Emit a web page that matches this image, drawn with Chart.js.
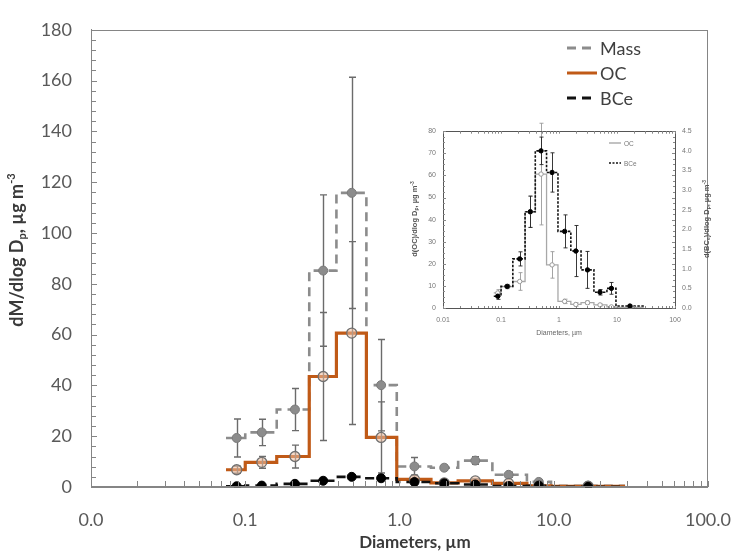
<!DOCTYPE html>
<html>
<head>
<meta charset="utf-8">
<script src="https://cdn.jsdelivr.net/npm/chart.js@4.4.1/dist/chart.umd.min.js"></script>
<style>
  html, body { margin: 0; padding: 0; background: #fff; }
  #wrap { position: relative; width: 753px; height: 552px; overflow: hidden; }
  #main  { position: absolute; left: 0; top: 0; }
  #inset { position: absolute; left: 395px; top: 120px; }
</style>
</head>
<body>
<div id="wrap">
  <canvas id="main" width="753" height="552"></canvas>
  <canvas id="inset" width="330" height="225"></canvas>
</div>
<script>
// ── Data ───────────────────────────────────────────────────────────────────
const BIN_EDGES = [0.075, 0.1, 0.16, 0.26, 0.39, 0.61, 0.96, 1.6, 2.4, 4.0, 6.7, 9.6, 29];
const DIAMETERS = [0.088, 0.128, 0.21, 0.32, 0.49, 0.76, 1.25, 1.95, 3.1, 5.1, 8.0, 16.7];

const MASS     = [19.3, 21.5, 30.5, 85.2, 115.8, 40.1, 8.1, 7.6, 10.4, 4.8, 2.0, 0.5];
const MASS_ERR = [7.5, 5.2, 8.3, 29.8, 45.5, 18.0, 3.5, 1.0, 1.5, 1.0, 0.6, 0.4];
const OC       = [6.8, 9.7, 12.0, 43.5, 60.6, 19.5, 3.0, 1.6, 2.4, 1.4, 0.5, 0.3];
const OC_ERR   = [1.4, 2.3, 4.5, 25.2, 36.0, 14.0, 1.5, 0.6, 0.8, 0.5, 0.3, 0.2];
const BCE      = [0.3, 0.55, 1.25, 2.45, 4.0, 3.45, 1.95, 1.45, 0.97, 0.4, 0.5, 0.05];
const BCE_ERR  = [0.08, 0.04, 0.18, 0.4, 0.35, 0.5, 0.42, 0.65, 0.47, 0.07, 0.15, 0.02];

// inset panel (OC on left axis, BCe on right axis)
const INSET_OC_ERR  = [1.5, 1.0, 4.0, 7.0, 23.0, 6.0, 1.0, 0.8, 0.8, 0.5, 0.3, 0.3];
const INSET_BCE_ERR = [0.08, 0.04, 0.18, 0.4, 0.35, 0.5, 0.42, 0.65, 0.47, 0.07, 0.15, 0.02];

const X_TICKS        = [0.01, 0.1, 1, 10, 100];
const X_TICK_LABELS  = ['0.0', '0.1', '1.0', '10.0', '100.0'];
const INSET_X_LABELS = ['0.01', '0.1', '1', '10', '100'];

// ── Styles ─────────────────────────────────────────────────────────────────
const FONT       = 'Lato, "Open Sans", sans-serif';
const INSET_FONT = '"Liberation Sans", Arial, sans-serif';
const AXIS_COLOR = '#858585';
const TEXT_COLOR = '#595959';
const MASS_COLOR = '#8c8c8c';
const OC_COLOR   = '#c05a17';
const BCE_COLOR  = '#111111';
const ERR_COLOR  = '#6b6b6b';

// ── Helpers ────────────────────────────────────────────────────────────────
function stepPoints(edges, vals) {
  const pts = [];
  vals.forEach((v, i) => {
    pts.push({ x: edges[i], y: v });
    pts.push({ x: edges[i + 1], y: v });
  });
  return pts;
}
const markerPoints = (xs, ys) => xs.map((x, i) => ({ x, y: ys[i] }));

function logMinor(min, max) {
  const out = [];
  for (let d = Math.log10(min); d < Math.log10(max); d++) {
    for (let k = 2; k <= 9; k++) out.push(k * Math.pow(10, d));
  }
  return out;
}

// text with subscript / superscript runs: parts = [[text, 'n'|'sub'|'sup'], ...]
function drawRich(ctx, parts, cx, cy, size, weight, color, rotate) {
  ctx.save();
  ctx.translate(cx, cy);
  if (rotate) ctx.rotate(-Math.PI / 2);
  ctx.fillStyle = color;
  ctx.textBaseline = 'middle';
  ctx.textAlign = 'left';
  const fontFor = kind => `${weight} ${kind === 'n' ? size : Math.round(size * 0.62)}px ${ctx._fam}`;
  let total = 0;
  parts.forEach(([t, k]) => { ctx.font = fontFor(k); total += ctx.measureText(t).width; });
  let x = -total / 2;
  parts.forEach(([t, k]) => {
    ctx.font = fontFor(k);
    const dy = k === 'sub' ? size * 0.28 : k === 'sup' ? -size * 0.32 : 0;
    ctx.fillText(t, x, dy);
    x += ctx.measureText(t).width;
  });
  ctx.restore();
}

function drawErrorBars(chart, specs) {
  const ctx = chart.ctx;
  const xs = chart.scales.x;
  specs.forEach(s => {
    const ys = chart.scales[s.axis];
    ctx.save();
    ctx.strokeStyle = s.color;
    ctx.lineWidth = s.width;
    s.vals.forEach((v, i) => {
      const px = Math.round(xs.getPixelForValue(DIAMETERS[i])) + 0.5;
      const top = ys.getPixelForValue(v + s.err[i]);
      const bot = ys.getPixelForValue(Math.max(0, v - s.err[i]));
      ctx.beginPath();
      ctx.moveTo(px, top); ctx.lineTo(px, bot);
      ctx.moveTo(px - s.cap, top); ctx.lineTo(px + s.cap, top);
      ctx.moveTo(px - s.cap, bot); ctx.lineTo(px + s.cap, bot);
      ctx.stroke();
    });
    ctx.restore();
  });
}

function drawLegend(ctx, items, x0, x1, tx, ys, font, color) {
  items.forEach((it, i) => {
    ctx.save();
    ctx.strokeStyle = it.color;
    ctx.lineWidth = it.width;
    ctx.setLineDash(it.dash);
    ctx.beginPath();
    ctx.moveTo(x0, ys[i]); ctx.lineTo(x1, ys[i]);
    ctx.stroke();
    ctx.setLineDash([]);
    ctx.fillStyle = color;
    ctx.font = font;
    ctx.textBaseline = 'middle';
    ctx.fillText(it.label, tx, ys[i] + 1);
    ctx.restore();
  });
}

// ── Main chart ─────────────────────────────────────────────────────────────
const mainDecor = {
  id: 'mainDecor',
  afterDatasetDraw(chart, args) {
    if (args.index !== 2) return;   // after the step lines, before the markers
    drawErrorBars(chart, [
      { axis: 'y', vals: MASS, err: MASS_ERR, color: ERR_COLOR, width: 1.4, cap: 3.5 },
      { axis: 'y', vals: OC,   err: OC_ERR,   color: ERR_COLOR, width: 1.4, cap: 3.5 },
      { axis: 'y', vals: BCE,  err: BCE_ERR,  color: '#333',    width: 1.4, cap: 3.5 },
    ]);
  },
  afterDraw(chart) {
    const { ctx, chartArea: a, scales } = chart;
    ctx.save();
    ctx.strokeStyle = AXIS_COLOR;
    ctx.lineWidth = 1;
    ctx.strokeRect(Math.round(a.left) + 0.5, Math.round(a.top) + 0.5,
                   Math.round(a.right - a.left) - 1, Math.round(a.bottom - a.top) - 1);
    // inward ticks
    ctx.beginPath();
    for (let v = 0; v <= 180; v += 4) {
      const py = Math.round(scales.y.getPixelForValue(v)) + 0.5;
      ctx.moveTo(a.left, py); ctx.lineTo(a.left + (v % 20 === 0 ? 6 : 5), py);
    }
    logMinor(0.01, 100).concat(X_TICKS).forEach(v => {
      const px = Math.round(scales.x.getPixelForValue(v)) + 0.5;
      ctx.moveTo(px, a.bottom); ctx.lineTo(px, a.bottom - 6);
    });
    ctx.stroke();
    ctx.restore();

    ctx._fam = FONT;
    drawRich(ctx, [['dM/dlog D', 'n'], ['p', 'sub'], [', \u00b5g m', 'n'], ['-3', 'sup']],
             17, 250, 18, 'bold', '#3a3a3a', true);
    drawRich(ctx, [['Diameters, \u00b5m', 'n']], 415, 543, 17, 'bold', '#3a3a3a', false);

    drawLegend(ctx, [
      { label: 'Mass', color: MASS_COLOR, dash: [9, 6], width: 3 },
      { label: 'OC',   color: OC_COLOR,   dash: [],     width: 3 },
      { label: 'BCe',  color: BCE_COLOR,  dash: [9, 6], width: 3 },
    ], 567, 597, 600, [48, 73, 98], `18px ${FONT}`, '#404040');
  }
};

new Chart(document.getElementById('main'), {
  type: 'line',
  data: {
    datasets: [
      { label: 'Mass', data: stepPoints(BIN_EDGES, MASS), borderColor: MASS_COLOR, borderWidth: 2.6,
        borderDash: [9, 6], pointRadius: 0, order: 6 },
      { label: 'OC', data: stepPoints(BIN_EDGES, OC), borderColor: OC_COLOR, borderWidth: 3.2,
        pointRadius: 0, order: 5 },
      { label: 'BCe', data: stepPoints(BIN_EDGES, BCE), borderColor: BCE_COLOR, borderWidth: 2.6,
        borderDash: [9, 6], pointRadius: 0, order: 4 },
      { data: markerPoints(DIAMETERS, MASS), showLine: false, pointRadius: 4.5,
        pointBackgroundColor: MASS_COLOR, pointBorderColor: '#7a7a7a', pointBorderWidth: 1, order: 3 },
      { data: markerPoints(DIAMETERS, OC), showLine: false, pointRadius: 5,
        pointBackgroundColor: 'rgba(236,190,160,0.55)', pointBorderColor: '#707070', pointBorderWidth: 1.3, order: 2 },
      { data: markerPoints(DIAMETERS, BCE), showLine: false, pointRadius: 4.5,
        pointBackgroundColor: '#000', pointBorderColor: '#000', pointBorderWidth: 1, order: 1 },
    ]
  },
  options: {
    responsive: false,
    animation: false,
    devicePixelRatio: 1,
    events: [],
    layout: { padding: { left: 0, right: 24, top: 19, bottom: 0 } },
    plugins: { legend: { display: false }, tooltip: { enabled: false } },
    scales: {
      x: {
        type: 'logarithmic', min: 0.01, max: 100,
        afterBuildTicks: s => { s.ticks = X_TICKS.map(v => ({ value: v })); },
        afterFit: s => { s.height = 65; },
        ticks: { callback: (v, i) => X_TICK_LABELS[i], color: TEXT_COLOR, font: { family: FONT, size: 18 },
                 padding: 22, maxRotation: 0, autoSkip: false },
        grid: { display: false, drawTicks: false },
        border: { display: true, color: AXIS_COLOR, width: 1 }
      },
      y: {
        min: 0, max: 180,
        afterFit: s => { s.width = 91; },
        ticks: { stepSize: 20, color: TEXT_COLOR, font: { family: FONT, size: 18 }, padding: 19 },
        grid: { display: false, drawTicks: false },
        border: { display: true, color: AXIS_COLOR, width: 1 }
      }
    }
  },
  plugins: [mainDecor]
});

// ── Inset chart ────────────────────────────────────────────────────────────
const insetDecor = {
  id: 'insetDecor',
  afterDatasetDraw(chart, args) {
    if (args.index !== 1) return;
    drawErrorBars(chart, [
      { axis: 'y',  vals: OC,  err: INSET_OC_ERR,  color: '#9a9a9a', width: 0.9, cap: 2 },
      { axis: 'y2', vals: BCE, err: INSET_BCE_ERR, color: '#222',    width: 0.9, cap: 2 },
    ]);
  },
  afterDraw(chart) {
    const { ctx, chartArea: a, scales } = chart;
    ctx.save();
    ctx.strokeStyle = '#555';
    ctx.lineWidth = 1;
    ctx.beginPath();
    ctx.moveTo(a.left, Math.round(a.top) + 0.5); ctx.lineTo(a.right, Math.round(a.top) + 0.5);
    ctx.stroke();
    ctx.strokeStyle = '#888';
    ctx.beginPath();
    for (let v = 0; v <= 80; v += 2.5) {
      const py = Math.round(scales.y.getPixelForValue(v)) + 0.5;
      ctx.moveTo(a.left, py); ctx.lineTo(a.left + (v % 10 === 0 ? 3 : 2), py);
      ctx.moveTo(a.right, py); ctx.lineTo(a.right - (v % 10 === 0 ? 3 : 2), py);
    }
    logMinor(0.01, 100).concat(X_TICKS).forEach(v => {
      const px = Math.round(scales.x.getPixelForValue(v)) + 0.5;
      ctx.moveTo(px, a.bottom); ctx.lineTo(px, a.bottom - 2);
      ctx.moveTo(px, a.top); ctx.lineTo(px, a.top + 2.5);
    });
    ctx.stroke();
    ctx.restore();

    ctx._fam = INSET_FONT;
    drawRich(ctx, [['d(OC)/dlog D', 'n'], ['p', 'sub'], [', \u00b5g m', 'n'], ['-3', 'sup']],
             20, 99, 7.5, 'bold', '#555', true);
    drawRich(ctx, [['d(BC', 'n'], ['e', 'sub'], [')/dlog D', 'n'], ['p', 'sub'], [', \u00b5g m', 'n'], ['-3', 'sup']],
             312, 99, 7.5, 'bold', '#555', true);
    drawRich(ctx, [['Diameters, \u00b5m', 'n']], 164, 213, 7, 'normal', '#666', false);

    drawLegend(ctx, [
      { label: 'OC',  color: '#9a9a9a', dash: [],     width: 1.2 },
      { label: 'BCe', color: '#111',    dash: [2, 1.5], width: 1.5 },
    ], 214, 226, 229, [23, 43], `6.5px ${INSET_FONT}`, '#777');
  }
};

new Chart(document.getElementById('inset'), {
  type: 'line',
  data: {
    datasets: [
      { label: 'OC', data: stepPoints(BIN_EDGES, OC), borderColor: '#a8a8a8', borderWidth: 1.3,
        pointRadius: 0, yAxisID: 'y', order: 5 },
      { label: 'BCe', data: stepPoints(BIN_EDGES, BCE), borderColor: '#111', borderWidth: 1.6,
        borderDash: [2.5, 1.5], pointRadius: 0, yAxisID: 'y2', order: 4 },
      { data: markerPoints(DIAMETERS, OC), showLine: false, pointRadius: 2.2, yAxisID: 'y',
        pointBackgroundColor: '#fff', pointBorderColor: '#999', pointBorderWidth: 1, order: 2 },
      { data: markerPoints(DIAMETERS, BCE), showLine: false, pointRadius: 2.2, yAxisID: 'y2',
        pointBackgroundColor: '#000', pointBorderColor: '#000', pointBorderWidth: 1, order: 1 },
    ]
  },
  options: {
    responsive: false,
    animation: false,
    devicePixelRatio: 1,
    events: [],
    layout: { padding: { left: 0, right: 0, top: 10, bottom: 0 } },
    plugins: { legend: { display: false }, tooltip: { enabled: false } },
    scales: {
      x: {
        type: 'logarithmic', min: 0.01, max: 100,
        afterBuildTicks: s => { s.ticks = X_TICKS.map(v => ({ value: v })); },
        afterFit: s => { s.height = 37; },
        ticks: { callback: (v, i) => INSET_X_LABELS[i], color: '#777', font: { family: INSET_FONT, size: 7 },
                 padding: 8, maxRotation: 0, autoSkip: false },
        grid: { display: false, drawTicks: false },
        border: { display: true, color: '#555', width: 1 }
      },
      y: {
        position: 'left', min: 0, max: 80,
        afterFit: s => { s.width = 48; },
        ticks: { stepSize: 10, color: '#777', font: { family: INSET_FONT, size: 7 }, padding: 7 },
        grid: { display: false, drawTicks: false },
        border: { display: true, color: '#555', width: 1 }
      },
      y2: {
        position: 'right', min: 0, max: 4.5,
        afterFit: s => { s.width = 50; },
        ticks: { stepSize: 0.5, color: '#777', font: { family: INSET_FONT, size: 7 }, padding: 7,
                 callback: v => Number(v).toFixed(1) },
        grid: { display: false, drawTicks: false },
        border: { display: true, color: '#555', width: 1 }
      }
    }
  },
  plugins: [insetDecor]
});
</script>
</body>
</html>
